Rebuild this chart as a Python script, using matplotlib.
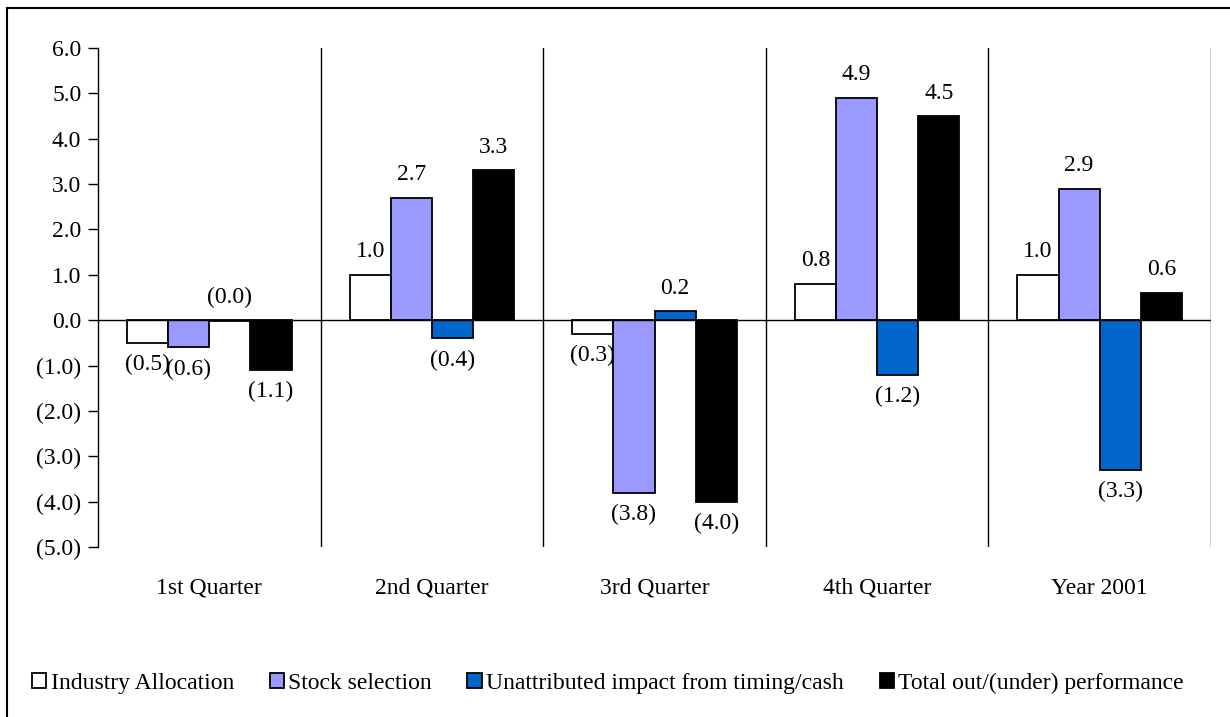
import matplotlib
matplotlib.use("Agg")
import matplotlib.pyplot as plt
import numpy as np
from matplotlib.lines import Line2D
from matplotlib.patches import Patch

categories = ["1st Quarter", "2nd Quarter", "3rd Quarter", "4th Quarter", "Year 2001"]
series_names = ["Industry Allocation", "Stock selection",
                "Unattributed impact from timing/cash", "Total out/(under) performance"]
industry_allocation = [-0.5, 1.0, -0.3, 0.8, 1.0]
stock_selection = [-0.6, 2.7, -3.8, 4.9, 2.9]
unattributed = [-0.01, -0.4, 0.2, -1.2, -3.3]
total_performance = [-1.1, 3.3, -4.0, 4.5, 0.6]
y_ticks = [6.0, 5.0, 4.0, 3.0, 2.0, 1.0, 0.0, -1.0, -2.0, -3.0, -4.0, -5.0]

series = [industry_allocation, stock_selection, unattributed, total_performance]
colors = ["#FFFFFF", "#9999FF", "#0066CC", "#000000"]

plt.rcParams["font.family"] = ["Liberation Serif", "DejaVu Serif"]
FS = 17

W, H = 1230, 717
fig = plt.figure(figsize=(W / 100, H / 100), dpi=100)
ax = fig.add_axes([98 / W, 1 - 547 / H, (1211 - 98) / W, (547 - 48) / H])


def fmt(v):
    s = f"{abs(v):.1f}"
    return f"({s})" if v < 0 else s


x = np.arange(len(categories))
bw = 0.185
for i, (vals, col) in enumerate(zip(series, colors)):
    offs = (i - 1.5) * bw
    ax.bar(x + offs, vals, width=bw, color=col, edgecolor="black",
           linewidth=1.3, zorder=3)
    for xi, v in zip(x, vals):
        if v >= 0 or round(abs(v), 1) == 0.0:
            ax.annotate(fmt(v), (xi + offs, max(v, 0)), xytext=(0, 9),
                        textcoords="offset points", ha="center", va="bottom",
                        fontsize=FS)
        else:
            ax.annotate(fmt(v), (xi + offs, v), xytext=(0, -8),
                        textcoords="offset points", ha="center", va="top",
                        fontsize=FS)

ax.set_xlim(-0.5, len(categories) - 0.5)
ax.set_ylim(-5, 6)
ax.set_yticks(y_ticks)
ax.set_yticklabels([fmt(t) for t in y_ticks], fontsize=FS)
ax.tick_params(axis="y", direction="out", length=7, width=1, pad=5)
ax.tick_params(axis="x", length=0, pad=22, labelsize=FS)
ax.set_xticks(x)
ax.set_xticklabels(categories)

for side in ["top", "right", "bottom"]:
    ax.spines[side].set_visible(False)
ax.spines["left"].set_linewidth(1)

ax.axhline(0, color="black", linewidth=1, zorder=4)
for b in np.arange(0.5, len(categories), 1.0):
    ax.axvline(b, color="black", linewidth=1, zorder=1)

handles = [Patch(facecolor=c, edgecolor="black", linewidth=1.3) for c in colors]
fig.legend(handles, series_names, loc="center", bbox_to_anchor=(608 / W, 1 - 683 / H),
           ncol=4, frameon=False, fontsize=FS, handlelength=0.6, handleheight=0.6,
           handletextpad=0.2, columnspacing=1.5)

# outer frame of the figure
fig.add_artist(Line2D([7 / W, 7 / W], [0, 1 - 8 / H], color="black", linewidth=1.5,
                      transform=fig.transFigure))
fig.add_artist(Line2D([7 / W, 1], [1 - 8 / H, 1 - 8 / H], color="black", linewidth=1.5,
                      transform=fig.transFigure))

fig.savefig("out.png", dpi=100)
